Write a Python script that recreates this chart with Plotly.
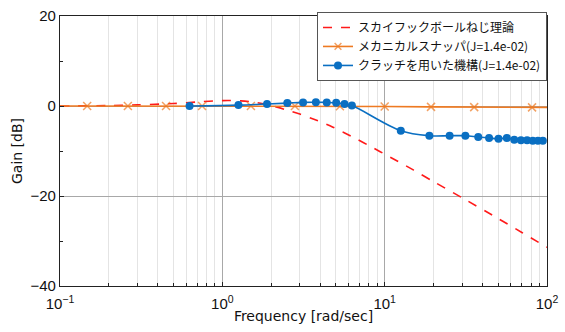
import plotly.graph_objects as go

# ---- data ----
theory_f = [0.1, 0.2, 0.3, 0.5, 0.7, 1.0, 1.3, 1.6, 2.0, 2.5, 3.0, 3.7, 4.8, 6.6, 8.5,
            10, 15, 20, 30, 50, 70, 100]
theory_db = [0.0, 0.1, 0.25, 0.55, 0.9, 1.2, 1.15, 0.8, 0.1, -0.9, -1.8, -3.0, -4.7, -7.2, -9.3,
             -10.7, -14.2, -16.8, -20.4, -25.0, -28.1, -31.4]

snubber_f = [0.1, 0.147, 0.262, 0.45, 0.75, 1.5, 2.8, 5.3, 10, 19.3, 35.6, 80.9, 100]
snubber_db = [0.0, 0.0, 0.0, 0.0, 0.0, 0.0, 0.0, -0.05, -0.1, -0.2, -0.25, -0.3, -0.3]
snubber_marker = [0, 1, 1, 1, 1, 1, 1, 1, 1, 1, 1, 1, 0]

clutch_f = [0.628, 1.257, 1.885, 2.513, 3.142, 3.770, 4.398, 5.027, 5.655, 6.283,
            12.57, 18.85, 25.13, 31.42, 37.70, 43.98, 50.27, 56.55, 62.83, 69.12,
            75.40, 81.68, 87.96, 94.25]
clutch_db = [0.0, 0.2, 0.45, 0.65, 0.8, 0.85, 0.8, 0.7, 0.45, 0.1,
             -5.5, -6.6, -6.6, -6.6, -6.9, -7.1, -7.3, -7.1, -7.5, -7.6,
             -7.6, -7.7, -7.7, -7.7]

names = ["スカイフックボールねじ理論", "メカニカルスナッパ(J=1.4e-02)", "クラッチを用いた機構(J=1.4e-02)"]

x_tickvals = [0.1, 1, 10, 100]
x_ticktext = ["10<sup>−1</sup>", "10<sup>0</sup>", "10<sup>1</sup>", "10<sup>2</sup>"]
x_minor = [m * d for d in (0.1, 1, 10) for m in range(2, 10)]

RED = "#FF1A1A"
ORANGE = "#EE7A22"
BLUE = "#0A6FC2"

fig = go.Figure()
fig.add_trace(go.Scatter(x=theory_f, y=theory_db, mode="lines", name=names[0],
                         line=dict(color=RED, width=1.6, dash="dash", shape="spline", smoothing=0.8)))
fig.add_trace(go.Scatter(x=snubber_f, y=snubber_db, mode="lines+markers", name=names[1],
                         line=dict(color=ORANGE, width=1.6),
                         marker=dict(symbol="x-thin", size=[8 * m for m in snubber_marker],
                                     line=dict(color=ORANGE, width=1.5), color=ORANGE)))
fig.add_trace(go.Scatter(x=clutch_f, y=clutch_db, mode="lines+markers", name=names[2],
                         line=dict(color=BLUE, width=1.6, shape="spline", smoothing=1),
                         marker=dict(symbol="circle", size=8, color=BLUE)))

tickfont = dict(family="Liberation Sans, Arial, sans-serif", size=15, color="#111")
titlefont = dict(family="DejaVu Sans, sans-serif", size=14, color="#111")

fig.update_layout(
    width=565, height=332,
    margin=dict(l=60, r=18, t=16, b=46),
    paper_bgcolor="white", plot_bgcolor="white",
    showlegend=True,
    legend=dict(x=1.0, xanchor="right", y=1.015, yanchor="top",
                bgcolor="white", bordercolor="#555", borderwidth=1,
                font=dict(family="Noto Sans CJK JP, sans-serif", size=12, color="#111"),
                itemwidth=30, tracegroupgap=0),
)
fig.update_xaxes(
    type="log", range=[-1, 2], automargin=False,
    tickvals=x_tickvals, ticktext=x_ticktext, tickfont=tickfont,
    ticklabelstandoff=4,
    showgrid=True, gridcolor="#A8A8A8", gridwidth=1,
    ticks="inside", ticklen=4, tickcolor="#222",
    showline=True, linecolor="#222", linewidth=1.2, mirror=True,
    minor=dict(tickvals=x_minor, showgrid=True, gridcolor="#E4E4E4", ticks="inside",
               ticklen=3, tickcolor="#222"),
    title=dict(text="Frequency [rad/sec]", font=titlefont, standoff=0),
    zeroline=False,
)
fig.update_yaxes(
    range=[-40, 20], dtick=20, tick0=0, tickfont=tickfont, automargin=False,
    showgrid=True, gridcolor="#A8A8A8", gridwidth=1,
    ticks="inside", ticklen=4, tickcolor="#222",
    showline=True, linecolor="#222", linewidth=1.2, mirror=True,
    minor=dict(dtick=10, ticks="inside", ticklen=3, tickcolor="#222", showgrid=False),
    title=dict(text="Gain [dB]", font=titlefont, standoff=4),
    zeroline=False,
)

fig.write_html("out.html")
